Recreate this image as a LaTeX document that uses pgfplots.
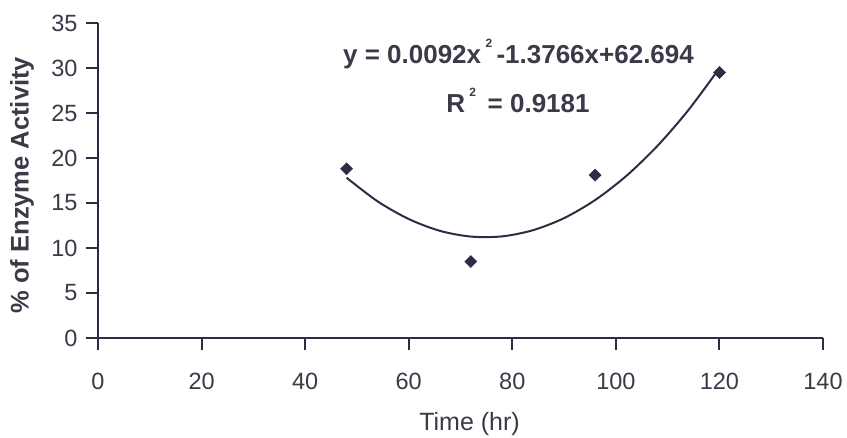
\documentclass[border=0pt]{standalone}
\usepackage{fontspec}
\setmainfont{Liberation Sans}
\usepackage{pgfplots}
\pgfplotsset{compat=1.18}
\definecolor{axcol}{HTML}{2B2D45}
\definecolor{txtcol}{HTML}{3A3A48}
\newcommand{\sq}{\,\raisebox{0.62em}{\fontsize{12}{12}\selectfont 2}\,}
\begin{document}
\begin{tikzpicture}
\begin{axis}[
  name=ax,
  scale only axis,
  width=725pt, height=315pt,
  xmin=0, xmax=140, ymin=0, ymax=35,
  xtick={0,20,...,140}, ytick={0,5,...,35},
  axis x line=bottom, axis y line=left,
  axis line style={-, line width=2.4pt, color=axcol},
  tick style={line width=2pt, color=axcol},
  tick align=outside,
  major tick length=12pt,
  /pgf/number format/assume math mode=true,
  tick label style={font=\fontsize{23.5}{26}\selectfont, text=txtcol},
  xticklabel style={yshift=-20pt},
  yticklabel style={xshift=-5pt},
  xlabel={Time (hr)},
  xlabel style={font=\fontsize{25}{28}\selectfont, text=txtcol, at={(rel axis cs:0.5125,0)}, anchor=center, yshift=-86pt},
  ylabel={\textbf{\% of Enzyme Activity}},
  ylabel style={font=\fontsize{25.5}{28}\selectfont, text=txtcol, at={(axis description cs:-0.1048,0.485)}, anchor=center},
  clip=false,
]
\addplot[color=axcol, line width=2pt, smooth, no marks] coordinates {
  (48,17.81) (54,15.18) (60,13.22) (66,11.91) (72,11.27) (78,11.29)
  (84,11.98) (90,13.32) (96,15.33) (102,18.00) (108,21.33) (114,25.32) (120,29.98)
};
\addplot[only marks, mark=square*, mark size=4.3pt, color=axcol, mark options={rotate=45, fill=axcol}] coordinates {
  (48,18.8) (72,8.5) (96,18.1) (120,29.5)
};
\node[font=\bfseries\fontsize{26}{28}\selectfont, text=txtcol, anchor=center] at (axis cs:81.2,31.56) {y = 0.0092x\sq-1.3766x+62.694};
\node[font=\bfseries\fontsize{26}{28}\selectfont, text=txtcol, anchor=center] at (axis cs:81.1,26.44) {R\sq\ = 0.9181};
\end{axis}
\pgfresetboundingbox
\path[use as bounding box] ([xshift=-98pt,yshift=-99pt]ax.south west) rectangle ([xshift=24pt,yshift=23pt]ax.north east);
\end{tikzpicture}
\end{document}
